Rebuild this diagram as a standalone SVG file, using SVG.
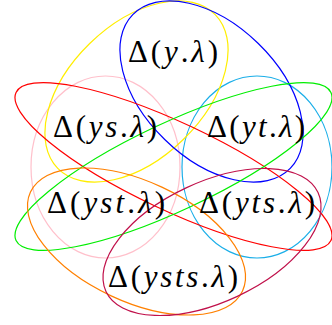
<svg xmlns="http://www.w3.org/2000/svg" width="332" height="325" viewBox="0 0 332 325">
<style>
.e{fill:none;stroke-width:1.2}
.t{font-family:'Liberation Serif',serif;font-size:31px;fill:#000}
.i{font-style:italic}
</style>
<rect width="332" height="325" fill="#fff"/>
<g id="sets">
<ellipse class="e" stroke="#ffc0cb" cx="105.5" cy="167" rx="74.5" ry="91"/>
<ellipse class="e" stroke="#1aaee8" cx="257" cy="167" rx="75" ry="91"/>
<ellipse class="e" stroke="#ffee00" cx="0" cy="0" rx="110" ry="67" transform="translate(136.5 91.5) rotate(-44.3)"/>
<ellipse class="e" stroke="#0000ff" cx="0" cy="0" rx="110" ry="67" transform="translate(211.5 91.5) rotate(44.3)"/>
<ellipse class="e" stroke="#ff0000" cx="0" cy="0" rx="174" ry="43.6" transform="translate(173.5 166.5) rotate(25.2)"/>
<ellipse class="e" stroke="#00ee00" cx="0" cy="0" rx="174" ry="43.6" transform="translate(173.5 166.5) rotate(-25.2)"/>
<ellipse class="e" stroke="#ff8000" cx="0" cy="0" rx="117" ry="60" transform="translate(136.5 241.5) rotate(25)"/>
<ellipse class="e" stroke="#c0104a" cx="0" cy="0" rx="117" ry="60" transform="translate(212 242) rotate(-25)"/>
</g>
<g id="n-y"><text class="t" x="128" y="62" textLength="90" lengthAdjust="spacing">Δ(<tspan class="i">y</tspan>.<tspan class="i">λ</tspan>)</text></g>
<g id="n-ys"><text class="t" x="53" y="137" textLength="104" lengthAdjust="spacing">Δ(<tspan class="i">ys</tspan>.<tspan class="i">λ</tspan>)</text></g>
<g id="n-yt"><text class="t" x="207" y="137" textLength="98" lengthAdjust="spacing">Δ(<tspan class="i">yt</tspan>.<tspan class="i">λ</tspan>)</text></g>
<g id="n-yst"><text class="t" x="47" y="213" textLength="118" lengthAdjust="spacing">Δ(<tspan class="i">yst</tspan>.<tspan class="i">λ</tspan>)</text></g>
<g id="n-yts"><text class="t" x="199" y="213" textLength="116" lengthAdjust="spacing">Δ(<tspan class="i">yts</tspan>.<tspan class="i">λ</tspan>)</text></g>
<g id="n-ysts"><text class="t" x="108" y="287" textLength="130" lengthAdjust="spacing">Δ(<tspan class="i">ysts</tspan>.<tspan class="i">λ</tspan>)</text></g>
</svg>
